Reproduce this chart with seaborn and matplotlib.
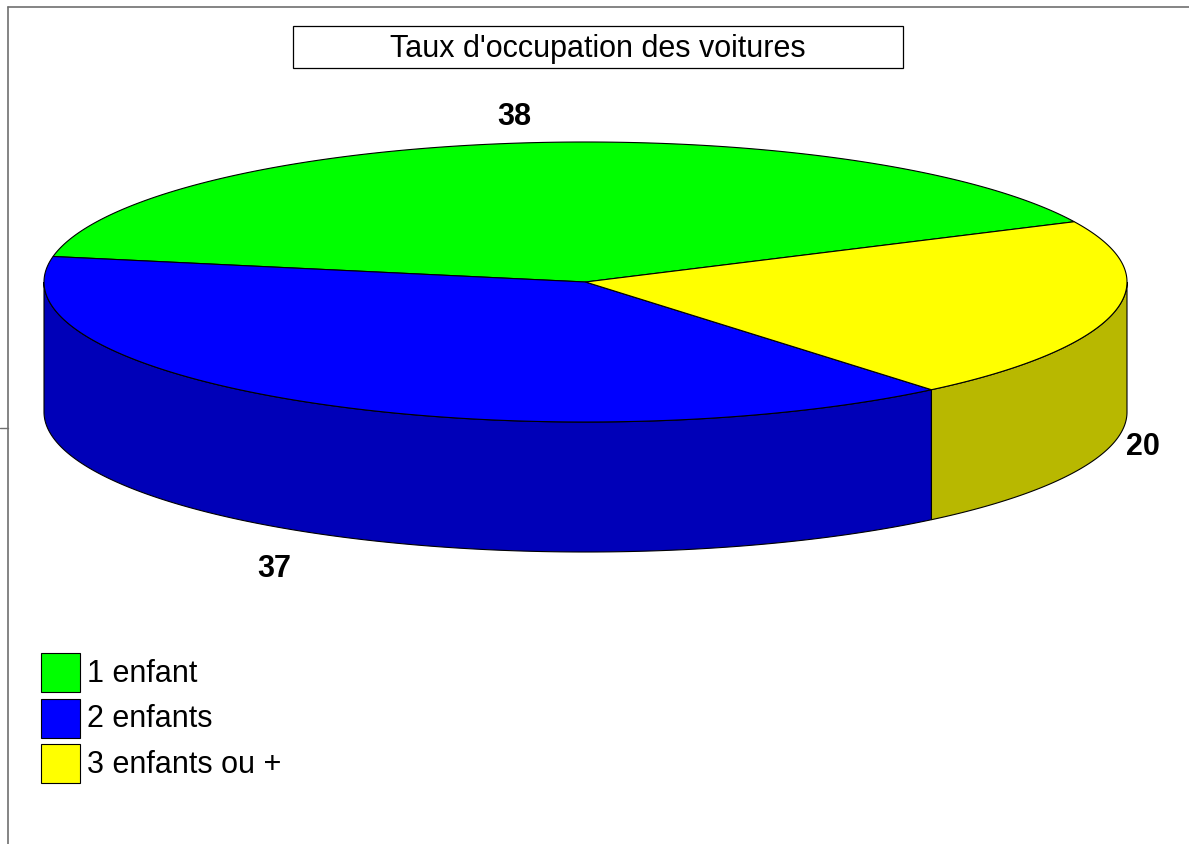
import numpy as np
import matplotlib
matplotlib.use("Agg")
import matplotlib.pyplot as plt
from matplotlib.patches import Polygon, Rectangle
import seaborn as sns

# Données du graphique
categories = ["1 enfant", "2 enfants", "3 enfants ou +"]
valeurs = [38, 37, 20]
couleurs = ["#00ff00", "#0000ff", "#ffff00"]
titre = "Taux d'occupation des voitures"

sns.set_theme(style="white")
plt.rcParams["font.family"] = ["Liberation Sans", "DejaVu Sans"]

W, H = 1189, 845
fig = plt.figure(figsize=(W / 100, H / 100), dpi=100)
ax = fig.add_axes([0, 0, 1, 1])
ax.set_xlim(0, W)
ax.set_ylim(H, 0)
ax.axis("off")

# Géométrie du camembert 3D (en pixels)
cx, cy = 585.5, 283
a, b = 541.5, 140
prof = 130
debut = 25.5


def pt(t):
    r = np.radians(t)
    return cx + a * np.cos(r), cy - b * np.sin(r)


def assombrir(c, f=0.72):
    rgb = np.array(matplotlib.colors.to_rgb(c))
    return tuple(rgb * f)


total = sum(valeurs)
angles = [debut]
for v in valeurs:
    angles.append(angles[-1] + v / total * 360)

# Faces latérales (partie avant visible : 180°..360°)
for i, c in enumerate(couleurs):
    t0, t1 = angles[i], angles[i + 1]
    for k in (0, 360):
        lo, hi = max(t0, 180 + k), min(t1, 360 + k)
        if hi <= lo:
            continue
        ts = np.linspace(lo, hi, 200)
        haut = [pt(t) for t in ts]
        bas = [(x, y + prof) for x, y in reversed(haut)]
        ax.add_patch(Polygon(haut + bas, closed=True, facecolor=assombrir(c),
                             edgecolor="black", linewidth=0.8))

# Faces supérieures
for i, c in enumerate(couleurs):
    ts = np.linspace(angles[i], angles[i + 1], 300)
    pts = [(cx, cy)] + [pt(t) for t in ts]
    ax.add_patch(Polygon(pts, closed=True, facecolor=c,
                         edgecolor="black", linewidth=0.8))

# Étiquettes de valeurs
for i, v in enumerate(valeurs):
    tm = (angles[i] + angles[i + 1]) / 2
    r = np.radians(tm)
    x, y = pt(tm)
    cs, sn = np.cos(r), np.sin(r)
    if sn < 0:
        y += prof
    if cs > 0.5:
        ha, x = "left", x + 12
    elif cs < -0.3:
        ha, x = "right", x - 20
    else:
        ha = "center"
    if sn > 0.5:
        va, y = "bottom", y - 12
    elif sn < -0.5:
        va, y = "top", y + 20
    else:
        va, y = "center", y + 4
    ax.text(x, y, str(v), ha=ha, va=va, fontsize=22,
            fontweight="bold", color="black")

# Titre encadré
ax.add_patch(Rectangle((293, 27), 610, 42, facecolor="white",
                       edgecolor="black", linewidth=0.9))
ax.text(598, 49, titre, ha="center", va="center", fontsize=22, color="black")

# Légende
for i, (cat, c) in enumerate(zip(categories, couleurs)):
    y0 = 654 + i * 45.5
    ax.add_patch(Rectangle((41, y0), 39, 39, facecolor=c,
                           edgecolor="black", linewidth=0.8))
    ax.text(87, y0 + 20, cat, ha="left", va="center", fontsize=22, color="black")

# Cadre
ax.plot([8, 8], [8, H], color="#707070", linewidth=1.2)
ax.plot([8, W], [8, 8], color="#707070", linewidth=1.2)
ax.plot([0, 8], [429, 429], color="#707070", linewidth=1.0)

fig.savefig("out.png", dpi=100)
